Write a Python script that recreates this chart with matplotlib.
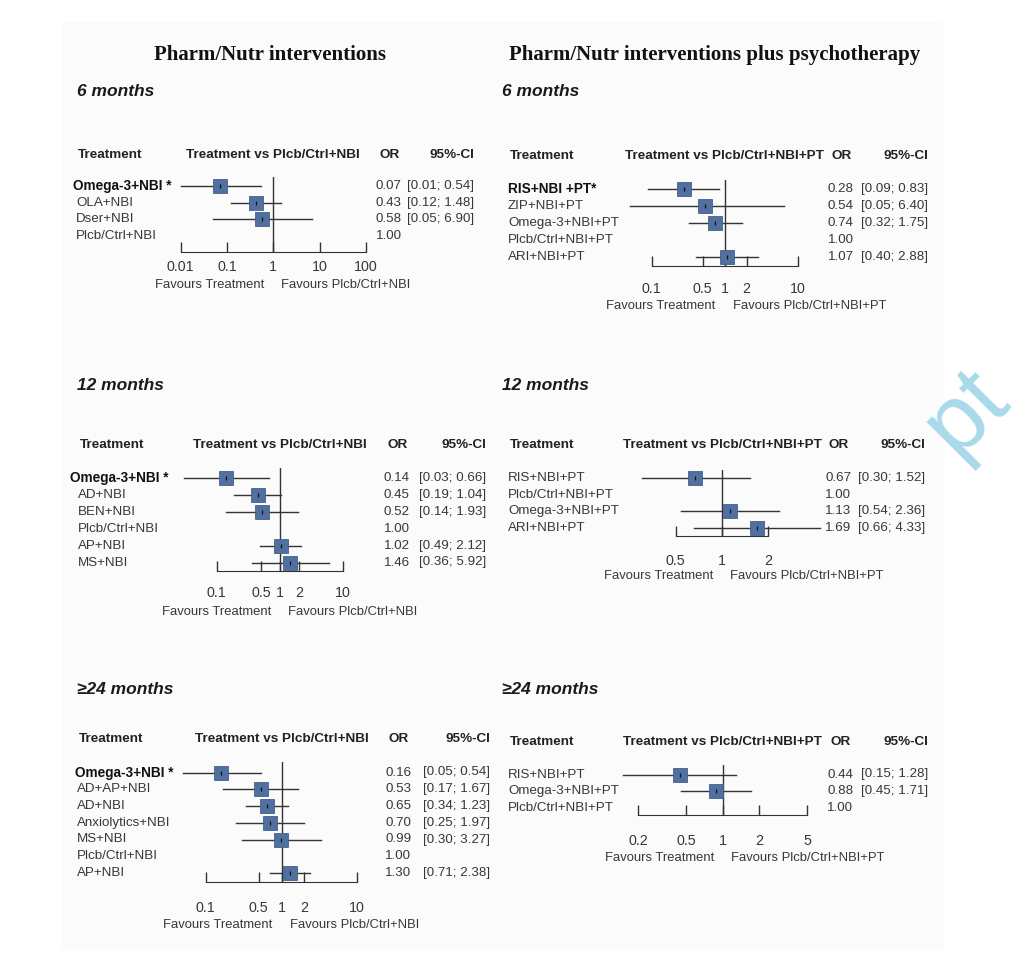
import numpy as np
import matplotlib.pyplot as plt
from matplotlib import transforms
from matplotlib.patches import Rectangle

W, H = 1031, 976
plt.rcParams['font.family'] = ['Liberation Sans', 'DejaVu Sans']

nan = np.nan

# ---- data: left column (Pharm/Nutr interventions) ----
m6_names = ['Omega-3+NBI *', 'OLA+NBI', 'Dser+NBI', 'Plcb/Ctrl+NBI']
m6_or = [0.07, 0.43, 0.58, 1.00]
m6_lo = [0.01, 0.12, 0.05, nan]
m6_hi = [0.54, 1.48, 6.90, nan]
m6_bold = [True, False, False, False]

m12_names = ['Omega-3+NBI *', 'AD+NBI', 'BEN+NBI', 'Plcb/Ctrl+NBI', 'AP+NBI', 'MS+NBI']
m12_or = [0.14, 0.45, 0.52, 1.00, 1.02, 1.46]
m12_lo = [0.03, 0.19, 0.14, nan, 0.49, 0.36]
m12_hi = [0.66, 1.04, 1.93, nan, 2.12, 5.92]
m12_bold = [True, False, False, False, False, False]

m24_names = ['Omega-3+NBI *', 'AD+AP+NBI', 'AD+NBI', 'Anxiolytics+NBI', 'MS+NBI',
             'Plcb/Ctrl+NBI', 'AP+NBI']
m24_or = [0.16, 0.53, 0.65, 0.70, 0.99, 1.00, 1.30]
m24_lo = [0.05, 0.17, 0.34, 0.25, 0.30, nan, 0.71]
m24_hi = [0.54, 1.67, 1.23, 1.97, 3.27, nan, 2.38]
m24_bold = [True, False, False, False, False, False, False]

# ---- data: right column (plus psychotherapy) ----
pt6_names = ['RIS+NBI +PT*', 'ZIP+NBI+PT', 'Omega-3+NBI+PT', 'Plcb/Ctrl+NBI+PT', 'ARI+NBI+PT']
pt6_or = [0.28, 0.54, 0.74, 1.00, 1.07]
pt6_lo = [0.09, 0.05, 0.32, nan, 0.40]
pt6_hi = [0.83, 6.40, 1.75, nan, 2.88]
pt6_bold = [True, False, False, False, False]

pt12_names = ['RIS+NBI+PT', 'Plcb/Ctrl+NBI+PT', 'Omega-3+NBI+PT', 'ARI+NBI+PT']
pt12_or = [0.67, 1.00, 1.13, 1.69]
pt12_lo = [0.30, nan, 0.54, 0.66]
pt12_hi = [1.52, nan, 2.36, 4.33]
pt12_bold = [False, False, False, False]

pt24_names = ['RIS+NBI+PT', 'Omega-3+NBI+PT', 'Plcb/Ctrl+NBI+PT']
pt24_or = [0.44, 0.88, 1.00]
pt24_lo = [0.15, 0.45, nan]
pt24_hi = [1.28, 1.71, nan]
pt24_bold = [False, False, False]

ticks_a = [0.01, 0.1, 1, 10, 100]
ticks_b = [0.1, 0.5, 1, 2, 10]
ticks_c = [0.5, 1, 2]
ticks_d = [0.2, 0.5, 1, 2, 5]

comp_l = 'Plcb/Ctrl+NBI'
comp_r = 'Plcb/Ctrl+NBI+PT'

txt_col = '#3d3535'
box_col = '#50709f'
fs = 9.6
hfs = 9.7

fig = plt.figure(figsize=(W / 100, H / 100), dpi=100)
fig.patch.set_facecolor('white')
fig.patches.append(Rectangle((62 / W, 1 - 948 / H), 880 / W, 926 / H,
                             transform=fig.transFigure, color='#fbfbfb', zorder=-5))


def fx(px):
    return px / W


def fy(py):
    return 1 - py / H


def panel(names, ors, los, his, bold, ticks, comp, L):
    ax = fig.add_axes([fx(L['x0']), fy(L['axis']), (L['x1'] - L['x0']) / W,
                       (L['axis'] - L['top']) / H])
    ax.set_xscale('log')
    ax.set_xlim(ticks[0], ticks[-1])
    ax.set_ylim((L['y0'] - L['axis']) / L['dy'], (L['y0'] - L['top']) / L['dy'])
    ax.patch.set_visible(False)
    for s in ['top', 'left', 'right']:
        ax.spines[s].set_visible(False)
    ax.spines['bottom'].set_color('#333333')
    ax.set_yticks([])
    ax.set_xticks(ticks)
    ax.set_xticklabels([('%g' % t) for t in ticks])
    ax.minorticks_off()
    ax.tick_params(axis='x', direction='in', length=7.5, width=1, color='#333333',
                   pad=(L['tick'] - L['axis'] - 7) / 1.39, labelsize=10.3,
                   labelcolor=txt_col)
    ax.axvline(1, color='#333333', lw=1)

    tr = transforms.blended_transform_factory(fig.transFigure, ax.transData)
    for i, (n, o, lo, hi, b) in enumerate(zip(names, ors, los, his, bold)):
        y = -i
        if not np.isnan(lo):
            ax.plot([lo, hi], [y, y], color='#333333', lw=1, clip_on=False, zorder=2)
            ax.plot(o, y, marker='s', ms=9.8, mfc=box_col, mec='#465f8a', mew=0.6,
                    clip_on=False, zorder=3)
            ax.plot(o, y, marker='|', ms=3.5, mew=0.9, color='#111111',
                    clip_on=False, zorder=4)
            ax.text(fx(L['ci']), y, '[%.2f; %.2f]' % (lo, hi), transform=tr,
                    ha='right', va='center', fontsize=fs, color=txt_col)
        ax.text(fx(L['bx'] if b else L['lx']), y, n, transform=tr, ha='left',
                va='center', fontsize=fs + (0.2 if b else 0),
                fontweight='bold' if b else 'normal',
                color='#111111' if b else txt_col)
        ax.text(fx(L['orx']), y, '%.2f' % o, transform=tr, ha='left', va='center',
                fontsize=fs, color=txt_col)

    ref = ax.transData.transform((1, 0))[0] / fig.dpi * 100
    hy = fy(L['head'])
    fig.text(fx(L['lx'] + 2), hy, 'Treatment', ha='left', va='center',
             fontsize=hfs, fontweight='bold', color='#222222')
    fig.text(fx(ref), hy, 'Treatment vs ' + comp, ha='center', va='center',
             fontsize=hfs, fontweight='bold', color='#222222')
    fig.text(fx(L['orx'] + 14), hy, 'OR', ha='center', va='center',
             fontsize=hfs, fontweight='bold', color='#222222')
    fig.text(fx(L['ci']), hy, '95%-CI', ha='right', va='center',
             fontsize=hfs, fontweight='bold', color='#222222')
    fig.text(fx(ref - 9), fy(L['fav']), 'Favours Treatment', ha='right', va='center',
             fontsize=9.4, color=txt_col)
    fig.text(fx(ref + 8), fy(L['fav']), 'Favours ' + comp, ha='left', va='center',
             fontsize=9.4, color=txt_col)


L1 = dict(x0=180.7, x1=366, y0=186, dy=16.6, axis=251.5, top=177, head=155,
          lx=76, bx=73, orx=376, ci=474, tick=267, fav=285)
L2 = dict(x0=651.7, x1=797.7, y0=189, dy=16.9, axis=266, top=180, head=156,
          lx=508, bx=508, orx=828, ci=928, tick=289, fav=306)
L3 = dict(x0=216.7, x1=343.3, y0=478, dy=16.9, axis=570.7, top=468, head=445,
          lx=78, bx=70, orx=384, ci=486, tick=593, fav=612)
L4 = dict(x0=675.7, x1=768.3, y0=478, dy=16.7, axis=536, top=470, head=445,
          lx=508, bx=508, orx=825, ci=925, tick=561, fav=576)
L5 = dict(x0=205.7, x1=357.3, y0=772.5, dy=16.75, axis=881.7, top=762, head=739,
          lx=77, bx=75, orx=385, ci=490, tick=908, fav=925)
L6 = dict(x0=638.3, x1=807.3, y0=774.5, dy=16.9, axis=815, top=765, head=742,
          lx=508, bx=508, orx=827, ci=928, tick=841, fav=858)

panel(m6_names, m6_or, m6_lo, m6_hi, m6_bold, ticks_a, comp_l, L1)
panel(pt6_names, pt6_or, pt6_lo, pt6_hi, pt6_bold, ticks_b, comp_r, L2)
panel(m12_names, m12_or, m12_lo, m12_hi, m12_bold, ticks_b, comp_l, L3)
panel(pt12_names, pt12_or, pt12_lo, pt12_hi, pt12_bold, ticks_c, comp_r, L4)
panel(m24_names, m24_or, m24_lo, m24_hi, m24_bold, ticks_b, comp_l, L5)
panel(pt24_names, pt24_or, pt24_lo, pt24_hi, pt24_bold, ticks_d, comp_r, L6)

# column titles and time-point labels
fig.text(fx(270.5), fy(55), 'Pharm/Nutr interventions', ha='center', va='center',
         family='Liberation Serif', fontweight='bold', fontsize=15, color='#111111')
fig.text(fx(715), fy(55), 'Pharm/Nutr interventions plus psychotherapy', ha='center',
         va='center', family='Liberation Serif', fontweight='bold', fontsize=15,
         color='#111111')
for lab, py in [('6 months', 91), ('12 months', 385), ('\u226524 months', 689)]:
    for px in [77, 502]:
        fig.text(fx(px), fy(py), lab, ha='left', va='center', fontsize=12.5,
                 fontweight='bold', style='italic', color='#1a1a1a')

# watermark fragment
fig.text(fx(966), fy(412), 'pt', ha='center', va='center', fontsize=68,
         rotation=45, color='#a9d9ea', zorder=-1)

fig.savefig('out.png', dpi=100)
